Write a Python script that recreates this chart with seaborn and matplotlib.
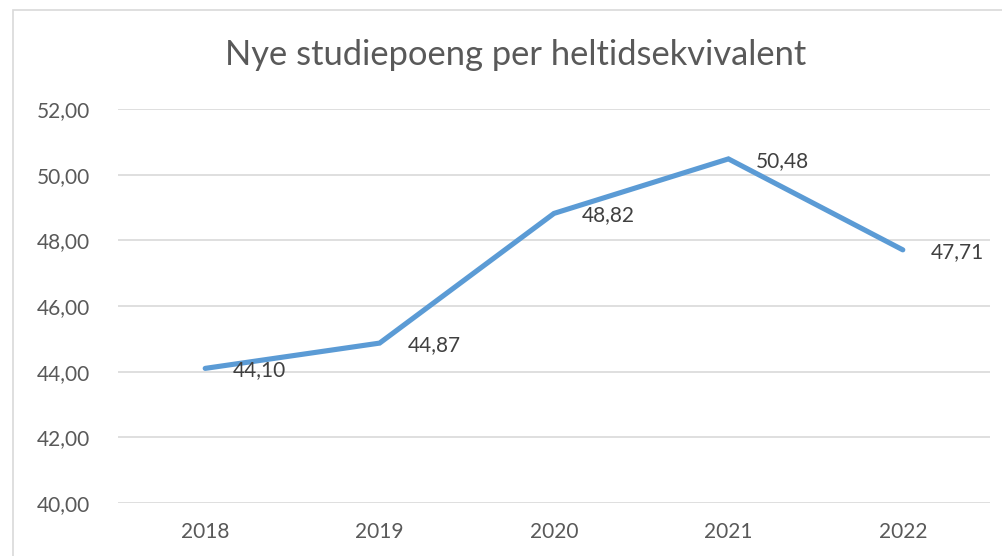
import matplotlib
matplotlib.use("Agg")
import matplotlib.pyplot as plt
import seaborn as sns
import pandas as pd
from matplotlib.patches import Rectangle

years = ["2018", "2019", "2020", "2021", "2022"]
values = [44.10, 44.87, 48.82, 50.48, 47.71]
y_ticks = [40, 42, 44, 46, 48, 50, 52]
title = "Nye studiepoeng per heltidsekvivalent"

sns.set_theme(style="white")
plt.rcParams["font.family"] = ["Lato", "DejaVu Sans"]

df = pd.DataFrame({"year": years, "value": values})

fig = plt.figure(figsize=(10.03, 5.56), dpi=100)
ax = fig.add_axes([118 / 1003, 1 - 503 / 556, (990 - 118) / 1003, (503 - 109) / 556])

# chart border
fig.patches.append(Rectangle((13 / 1003, -0.1), 1.2, 1 - 10 / 556 + 0.1,
                             transform=fig.transFigure, fill=False,
                             edgecolor="#D9D9D9", linewidth=1.2))

sns.lineplot(data=df, x="year", y="value", ax=ax, color="#5B9BD5",
             linewidth=3.7, solid_capstyle="round", solid_joinstyle="miter",
             sort=False)

ax.set_xlim(-0.5, len(years) - 0.5)
ax.set_ylim(y_ticks[0], y_ticks[-1])
ax.set_yticks(y_ticks)
ax.set_yticklabels([f"{t:.2f}".replace(".", ",") for t in y_ticks])
ax.grid(axis="y", color="#D9D9D9", linewidth=1.2)
ax.set_axisbelow(True)
for s in ax.spines.values():
    s.set_visible(False)
ax.tick_params(axis="both", length=0, labelsize=15, labelcolor="#595959")
ax.tick_params(axis="y", pad=20)
ax.tick_params(axis="x", pad=14)
ax.set_xlabel("")
ax.set_ylabel("")

for i, v in enumerate(values):
    ax.annotate(f"{v:.2f}".replace(".", ","), (i, v), xytext=(20, -1.5),
                textcoords="offset points", ha="left", va="center",
                fontsize=15, color="#404040")

fig.text(516 / 1003, 1 - 55 / 556, title, ha="center", va="center",
         fontsize=24.8, color="#595959")

fig.savefig("out.png", dpi=100, facecolor="white")
